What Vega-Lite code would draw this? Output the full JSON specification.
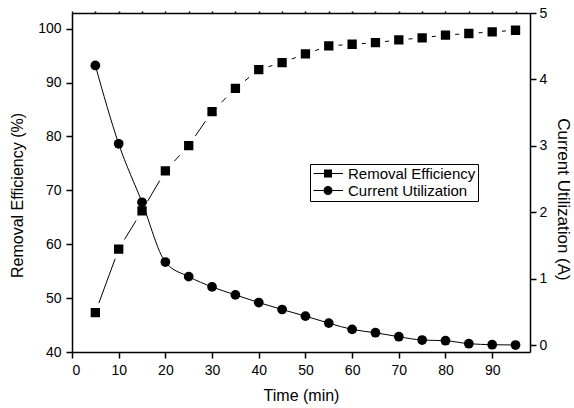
{
  "$schema": "https://vega.github.io/schema/vega-lite/v6.json",
  "width": 458,
  "height": 339,
  "autosize": {"type": "none"},
  "padding": {"left": 72, "top": 13, "right": 44, "bottom": 56},
  "background": "white",
  "config": {
    "font": "Liberation Sans",
    "view": {"stroke": null},
    "legend": {
      "strokeColor": "black",
      "strokeWidth": 1,
      "fillColor": "white",
      "padding": 2,
      "symbolStrokeWidth": 0,
      "symbolFillColor": "black"
    },
    "axis": {
      "grid": false,
      "domainColor": "black",
      "domainWidth": 1.5,
      "tickColor": "black",
      "tickWidth": 1.5,
      "labelColor": "black",
      "labelFont": "Liberation Sans",
      "labelFontSize": 14,
      "titleFont": "Liberation Sans",
      "titleFontSize": 16,
      "titleFontWeight": "normal",
      "titleColor": "black"
    }
  },
  "datasets": {
    "main": [
      {"t": 5, "re": 47.3, "cu": 4.21},
      {"t": 10, "re": 59.1, "cu": 3.03},
      {"t": 15, "re": 66.2, "cu": 2.15},
      {"t": 20, "re": 73.6, "cu": 1.25},
      {"t": 25, "re": 78.3, "cu": 1.03},
      {"t": 30, "re": 84.6, "cu": 0.875},
      {"t": 35, "re": 88.9, "cu": 0.755},
      {"t": 40, "re": 92.4, "cu": 0.64},
      {"t": 45, "re": 93.7, "cu": 0.535},
      {"t": 50, "re": 95.3, "cu": 0.435},
      {"t": 55, "re": 96.8, "cu": 0.33},
      {"t": 60, "re": 97.1, "cu": 0.235},
      {"t": 65, "re": 97.4, "cu": 0.185},
      {"t": 70, "re": 97.9, "cu": 0.125},
      {"t": 75, "re": 98.3, "cu": 0.075},
      {"t": 80, "re": 98.8, "cu": 0.065},
      {"t": 85, "re": 99.1, "cu": 0.02},
      {"t": 90, "re": 99.4, "cu": 0.005},
      {"t": 95, "re": 99.7, "cu": 0.0}
    ],
    "series": [
      {"series": "Removal Efficiency"},
      {"series": "Current Utilization"}
    ]
  },
  "resolve": {"scale": {"y": "independent"}, "axis": {"x": "independent"}},
  "layer": [
    {
      "data": {"name": "main"},
      "encoding": {
        "x": {
          "field": "t",
          "type": "quantitative",
          "scale": {"domain": [0, 98.1], "nice": false, "zero": false},
          "axis": {
            "orient": "bottom",
            "values": [0, 10, 20, 30, 40, 50, 60, 70, 80, 90],
            "tickSize": 6,
            "labelPadding": 5,
            "title": "Time (min)",
            "titlePadding": 10
          }
        },
        "y": {
          "field": "re",
          "type": "quantitative",
          "scale": {"domain": [40, 102.9], "nice": false, "zero": false},
          "axis": {
            "orient": "left",
            "values": [40, 50, 60, 70, 80, 90, 100],
            "tickSize": 6,
            "labelPadding": 5,
            "title": "Removal Efficiency (%)",
            "titlePadding": 12,
            "titleY": 182
          }
        }
      },
      "layer": [
        {"mark": {"type": "line", "color": "black", "strokeWidth": 1}},
        {
          "mark": {
            "type": "point",
            "shape": "square",
            "filled": true,
            "fill": "black",
            "stroke": "white",
            "strokeWidth": 5,
            "size": 205,
            "opacity": 1
          }
        }
      ]
    },
    {
      "data": {"name": "main"},
      "encoding": {
        "x": {
          "field": "t",
          "type": "quantitative",
          "scale": {"domain": [0, 98.1], "nice": false, "zero": false},
          "axis": {
            "orient": "top",
            "values": [0, 5, 10, 15, 20, 25, 30, 35, 40, 45, 50, 55, 60, 65, 70, 75, 80, 85, 90, 95],
            "tickSize": 2,
            "labels": false,
            "title": null
          }
        },
        "y": {
          "field": "cu",
          "type": "quantitative",
          "scale": {"domain": [-0.105, 5.0], "nice": false, "zero": false},
          "axis": {
            "orient": "right",
            "values": [0, 1, 2, 3, 4, 5],
            "tickSize": 6,
            "labelPadding": 3,
            "title": "Current Utilization (A)",
            "titleFontSize": 17,
            "titlePadding": 7,
            "titleY": 186
          }
        }
      },
      "layer": [
        {"mark": {"type": "line", "interpolate": "monotone", "color": "black", "strokeWidth": 1}},
        {
          "mark": {
            "type": "point",
            "shape": "circle",
            "filled": true,
            "color": "black",
            "size": 95,
            "opacity": 1
          }
        }
      ]
    },
    {
      "data": {"name": "series"},
      "transform": [{"filter": "false"}],
      "mark": {"type": "point", "filled": true, "color": "black", "strokeWidth": 0, "opacity": 1},
      "encoding": {
        "shape": {
          "field": "series",
          "type": "nominal",
          "scale": {
            "domain": ["Removal Efficiency", "Current Utilization"],
            "range": [
              "M-1.2,-0.1H0.9V0.1H-1.2ZM2.5,-0.1H4.7V0.1H2.5ZM0.9,-0.8H2.5V0.8H0.9Z",
              "M-1.2,-0.1H0.8V0.1H-1.2ZM2.6,-0.1H4.7V0.1H2.6ZM0.8,0A0.9,0.9 0 1,1 2.6,0A0.9,0.9 0 1,1 0.8,0Z"
            ]
          },
          "legend": {
            "orient": "none",
            "legendX": 238,
            "legendY": 151,
            "title": null,
            "symbolSize": 100,
            "labelFont": "Liberation Sans",
            "labelFontSize": 15,
            "labelColor": "black",
            "labelOffset": 21,
            "rowPadding": 1
          }
        }
      }
    }
  ]
}
